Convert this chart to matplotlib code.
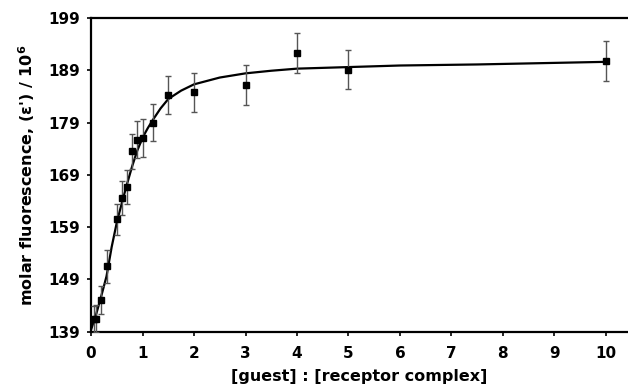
import matplotlib.pyplot as plt

# puntos experimentales
ratio = [0.05, 0.1, 0.2, 0.3, 0.5, 0.6, 0.7, 0.8, 0.9, 1.0, 1.2, 1.5, 2, 3, 4, 5, 10]
fluor = [141.4, 141.5, 145.1, 151.5, 160.5, 164.6, 166.7, 173.5, 175.7, 176.0,
         179.0, 184.3, 184.8, 186.2, 192.3, 189.1, 190.8]
err = [2.6, 2.6, 2.7, 3.2, 2.9, 3.2, 3.3, 3.4, 3.5, 3.6, 3.5, 3.6, 3.7, 3.8, 3.9, 3.75, 3.8]

# curva de ajuste
fit_x = [0, 0.1, 0.2, 0.3, 0.4, 0.5, 0.6, 0.7, 0.8, 0.9, 1.0, 1.1, 1.2, 1.35, 1.5, 1.75,
         2.0, 2.5, 3.0, 3.5, 4.0, 5.0, 6.0, 7.5, 9.0, 10.0]
fit_y = [139.4, 142.4, 145.9, 149.6, 155.2, 159.9, 163.7, 167.3, 170.7, 173.7, 176.1,
         177.9, 179.5, 181.7, 183.5, 185.1, 186.3, 187.6, 188.4, 188.9, 189.3, 189.6,
         189.9, 190.1, 190.4, 190.6]

plt.rcParams['font.family'] = 'DejaVu Sans'
plt.rcParams['font.weight'] = 'bold'

fig = plt.figure(figsize=(6.28, 3.89), dpi=100)
ax = fig.add_axes([0.145, 0.147, 0.855, 0.807])

ax.plot(fit_x, fit_y, color='black', linewidth=1.6, zorder=2)
ax.errorbar(ratio, fluor, yerr=err, fmt='s', color='black', markersize=5,
            ecolor='#555555', elinewidth=1.0, capsize=2, capthick=1.0, zorder=3)

ax.set_xlim(0, 10.43)
ax.set_ylim(139, 199)
ax.set_xticks(range(0, 11))
ax.set_yticks([139, 149, 159, 169, 179, 189, 199])
ax.tick_params(labelsize=11, length=3, width=1.2, direction='out')
ax.tick_params(axis='x', pad=7)
ax.tick_params(axis='y', pad=5)
for lab in ax.get_xticklabels() + ax.get_yticklabels():
    lab.set_fontweight('bold')

ax.spines['right'].set_visible(False)
for s in ['left', 'bottom', 'top']:
    ax.spines[s].set_linewidth(1.6)

ax.set_xlabel('[guest] : [receptor complex]', fontsize=11.5, fontweight='bold', labelpad=6)
ax.set_ylabel("molar fluorescence, (ε') / 10$^{6}$", fontsize=11.5, fontweight='bold', labelpad=8)

fig.savefig('out.png', dpi=100)
